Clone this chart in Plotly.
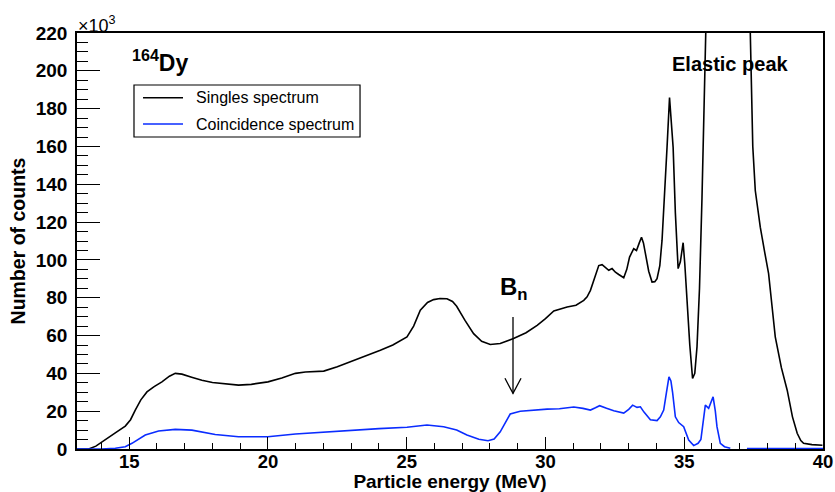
import plotly.graph_objects as go

# ---- data (MeV, counts in units of 10^3) ----
singles_E = [13.12, 13.54, 13.8, 14.14, 14.5, 14.86, 15.05, 15.22, 15.42, 15.64, 15.9, 16.18, 16.45, 16.66,
             16.9, 17.25, 17.62, 18.0, 18.5, 18.94, 19.4, 20.0, 20.5, 20.99, 21.35, 21.7, 22.01, 22.5,
             22.97, 23.5, 24.05, 24.5, 25.01, 25.25, 25.49, 25.75, 25.97, 26.2, 26.45, 26.65, 26.8, 27.1,
             27.41, 27.7, 28.01, 28.37, 28.85, 29.3, 29.7, 30.0, 30.3, 30.78, 31.1, 31.38, 31.5, 31.62,
             31.78, 31.92, 32.04, 32.16, 32.28, 32.4, 32.52, 32.64, 32.82, 32.93, 33.03, 33.18, 33.28,
             33.38, 33.46, 33.53, 33.6, 33.72, 33.84, 33.94, 34.02, 34.12, 34.2, 34.3, 34.38, 34.47,
             34.53, 34.6, 34.68, 34.78, 34.86, 34.96, 35.02, 35.1, 35.2, 35.3, 35.38, 35.46, 35.55, 35.64,
             35.72, 35.8, 35.9, 36.1, 36.4, 36.6, 36.9, 37.15, 37.38, 37.47, 37.56, 37.74, 37.9, 38.04,
             38.16, 38.28, 38.5, 38.71, 38.9, 39.07, 39.2, 39.3, 39.6, 39.98]
singles_counts = [0, 0, 1.5, 5.1, 8.5, 12.1, 15.5, 20.6, 26, 30.2, 33, 35.5, 38.5, 40,
                  39.6, 38, 36.4, 35.2, 34.3, 33.8, 34.2, 35.5, 37.5, 40, 40.7, 40.8, 41.2, 43.5,
                  46.1, 49, 52.2, 55, 59.3, 65, 73.4, 77.5, 79, 79.6, 79.5, 78, 75.5, 68,
                  61, 57, 55.3, 55.8, 58.4, 61.5, 65.4, 69, 73, 75.1, 76, 78.6, 80.5, 83.9,
                  91, 97, 97.5, 96, 94.5, 95.4, 93.5, 92.3, 90.6, 95, 101.5, 105.9, 105,
                  109, 112, 109, 103.3, 94, 88.3, 88.5, 90.1, 97, 110.3, 135, 159.5, 185.9,
                  172, 159.5, 125, 95.4, 99, 109.1, 98, 78.6, 55, 37.3, 40, 54, 85, 133,
                  180, 221, 300, 500, 700, 750, 650, 450, 220, 160, 136.7, 117.3, 104, 92.7,
                  76, 59.3, 43, 31.1, 17, 8.3, 4.5, 3, 2.3, 2.0]

coinc_E = [13.12, 14.0, 14.5, 14.86, 15.1, 15.35, 15.58, 16.06, 16.66, 17.26, 18.1, 18.94, 20.0, 20.99,
           21.7, 22.97, 24.0, 25.01, 25.73, 26.33, 26.8, 27.17, 27.6, 27.93, 28.15, 28.37, 28.55, 28.73,
           29.09, 29.5, 30.06, 30.5, 31.02, 31.35, 31.62, 31.8, 31.95, 32.2, 32.46, 32.82, 33.0, 33.14,
           33.3, 33.42, 33.55, 33.78, 34.02, 34.14, 34.26, 34.36, 34.45, 34.52, 34.58, 34.68, 34.8,
           34.98, 35.08, 35.16, 35.34, 35.5, 35.6, 35.68, 35.76, 35.88, 35.96, 36.04, 36.12, 36.18,
           36.3, 36.45, 36.66, 36.75, 37.26, 40.0]
coinc_counts = [0, 0, 0.4, 1.2, 3, 5.5, 7.4, 9.5, 10.4, 10, 7.7, 6.5, 6.5, 7.9,
                8.6, 10, 10.8, 11.5, 12.7, 11.8, 10, 7.4, 5.2, 4.4, 5.3, 9.1, 14, 18.5,
                20, 20.6, 21.1, 21.3, 22.2, 21.5, 20.6, 21.8, 22.9, 21.5, 20.2, 19, 21, 23.2,
                22, 22.3, 19.5, 15.5, 15, 17, 20.6, 30, 38.2, 36, 30, 17, 14,
                11.8, 8, 4.7, 1.8, 3, 5, 13, 23.2, 21.5, 25, 27.6, 20, 11.8,
                3, 1.2, 0.4, None, 0.3, 0.3]

x_ticks = [15, 20, 25, 30, 35, 40]
y_ticks = [0, 20, 40, 60, 80, 100, 120, 140, 160, 180, 200, 220]
series_names = ["Singles spectrum", "Coincidence spectrum"]
series_colors = ["black", "#0a2cff"]

bn_energy = 28.83   # neutron separation energy marker
FONT = "Liberation Sans"

fig = go.Figure()
fig.add_trace(go.Scatter(x=singles_E, y=singles_counts, mode="lines", name=series_names[0],
                         line=dict(color=series_colors[0], width=1.6), showlegend=False))
fig.add_trace(go.Scatter(x=coinc_E, y=coinc_counts, mode="lines", name=series_names[1],
                         line=dict(color=series_colors[1], width=1.6), showlegend=False,
                         connectgaps=False))

fig.update_layout(
    width=835, height=492,
    margin=dict(l=77, r=12, t=33, b=43),
    paper_bgcolor="white", plot_bgcolor="white",
    font=dict(family=FONT, color="black"),
    showlegend=False,
    xaxis=dict(range=[13.12, 40], tickvals=x_ticks, ticks="inside", ticklen=12, tickwidth=1,
               tickcolor="black", showline=True, linecolor="black", linewidth=1.5, mirror=True,
               showgrid=False, zeroline=False, automargin=False, ticklabelstandoff=-5,
               tickfont=dict(family=FONT, size=18.5, weight="bold"),
               minor=dict(dtick=1, ticks="inside", ticklen=6, tickcolor="black", showgrid=False),
               title=dict(text="Particle energy (MeV)", font=dict(family=FONT, size=19, weight="bold"),
                          standoff=10)),
    yaxis=dict(range=[0, 220], tickvals=y_ticks, ticks="inside", ticklen=23, tickwidth=1,
               tickcolor="black", showline=True, linecolor="black", linewidth=1.5, mirror=True,
               showgrid=False, zeroline=False, ticklabelstandoff=4, automargin=False,
               tickfont=dict(family=FONT, size=19, weight="bold"),
               minor=dict(dtick=5, ticks="inside", ticklen=11, tickcolor="black", showgrid=False),
               title=dict(text="Number of counts", font=dict(family=FONT, size=19.5, weight="bold"),
                          standoff=5)),
)

# manual legend box (paper coordinates)
leg_x0, leg_x1, leg_y0, leg_y1 = 0.0764, 0.3794, 0.750, 0.875
row_y = [0.8445, 0.7812]
fig.add_shape(type="rect", xref="paper", yref="paper", x0=leg_x0, x1=leg_x1, y0=leg_y0, y1=leg_y1,
              line=dict(color="black", width=1.2), fillcolor="white", layer="above")
for name, color, ry in zip(series_names, series_colors, row_y):
    fig.add_shape(type="line", xref="paper", yref="paper", x0=0.0885, x1=0.1421, y0=ry, y1=ry,
                  line=dict(color=color, width=1.6), layer="above")
    fig.add_annotation(x=0.1575, y=ry, xref="paper", yref="paper", xanchor="left", yanchor="middle",
                       text=name, showarrow=False, font=dict(family=FONT, size=16, color="black"))

# arrow marking B_n
head_w = 0.29
head_h = 8.0
arrow_top, arrow_tip = 69.8, 29.4
fig.add_shape(type="line", x0=bn_energy, x1=bn_energy, y0=arrow_top, y1=arrow_tip, xref="x", yref="y",
              line=dict(color="black", width=1.3))
fig.add_shape(type="path", xref="x", yref="y",
              path=f"M {bn_energy-head_w},{arrow_tip+head_h} L {bn_energy},{arrow_tip} L {bn_energy+head_w},{arrow_tip+head_h}",
              line=dict(color="black", width=1.3))

fig.add_annotation(x=bn_energy + 0.05, y=85, xref="x", yref="y", text="<b>B<sub>n</sub></b>",
                   showarrow=False, font=dict(family=FONT, size=24))
fig.add_annotation(x=36.66, y=203.7, xref="x", yref="y", text="<b>Elastic peak</b>",
                   showarrow=False, font=dict(family=FONT, size=20))
fig.add_annotation(x=0.071, y=0.932, xref="paper", yref="paper", xanchor="left", yanchor="middle",
                   text="<b><sup>164</sup>Dy</b>", showarrow=False, font=dict(family=FONT, size=23))
fig.add_annotation(x=-0.002, y=1.0, xref="paper", yref="paper", xanchor="left", yanchor="bottom",
                   text="×10<sup>3</sup>", showarrow=False, font=dict(family=FONT, size=18), yshift=-5)

fig.write_html("out.html")
